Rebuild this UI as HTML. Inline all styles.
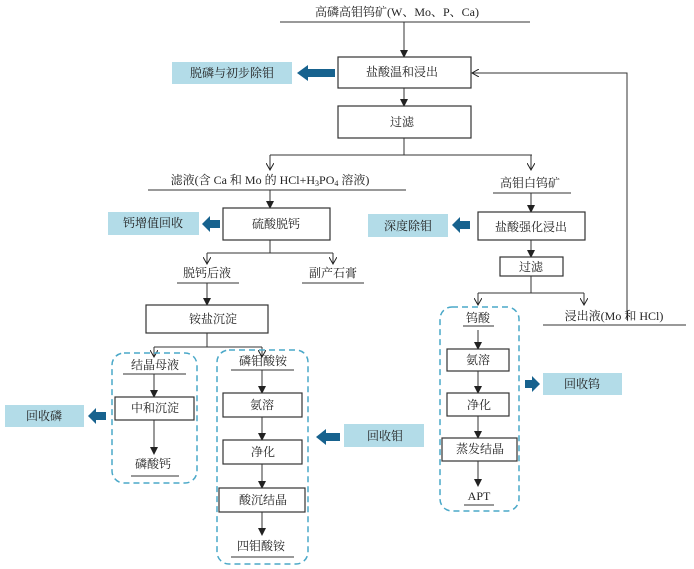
<!DOCTYPE html>
<html><head><meta charset="utf-8"><style>
body{margin:0;background:#fff}
svg{display:block}
text{font-family:"Liberation Serif","Noto Serif CJK SC",serif;font-size:12px;fill:#222;text-anchor:middle;dominant-baseline:central}
.b{fill:#fff;stroke:#333;stroke-width:1.2}
.l{stroke:#333;stroke-width:1;fill:none}
.c{fill:#b3dce8}
.d{fill:none;stroke:#4aa8c8;stroke-width:1.5;stroke-dasharray:6,4}
.a{fill:#17628e}
</style></head><body>
<svg width="694" height="569" viewBox="0 0 694 569">
<defs>
<marker id="m" markerWidth="8" markerHeight="8" refX="7" refY="4" orient="auto" markerUnits="userSpaceOnUse"><path d="M0,0 L8,4 L0,8 z" fill="#222"/></marker>
<marker id="o" markerWidth="8" markerHeight="8" refX="7" refY="4" orient="auto" markerUnits="userSpaceOnUse"><path d="M0,0 L7,4 L0,8" fill="none" stroke="#222"/></marker>
</defs>

<!-- top -->
<text x="397" y="12">高磷高钼钨矿(W、Mo、P、Ca)</text>
<line class="l" x1="280" y1="22" x2="530" y2="22"/>
<line class="l" x1="404" y1="22" x2="404" y2="57" marker-end="url(#m)"/>
<rect class="b" x="338" y="57" width="133" height="31"/>
<text x="402" y="72">盐酸温和浸出</text>
<rect class="c" x="172" y="62" width="120" height="22"/>
<text x="232" y="73">脱磷与初步除钼</text>
<path class="a" d="M335,69 L308,69 L308,65 L297,73 L308,81 L308,77 L335,77 z"/>
<polyline class="l" points="627,320 627,73 472,73" marker-end="url(#o)"/>
<line class="l" x1="404" y1="88" x2="404" y2="106" marker-end="url(#m)"/>
<rect class="b" x="338" y="106" width="133" height="32"/>
<text x="402" y="122">过滤</text>
<polyline class="l" points="404,138 404,155"/>
<line class="l" x1="270" y1="155" x2="532" y2="155"/>
<line class="l" x1="270" y1="155" x2="270" y2="170" marker-end="url(#o)"/>
<line class="l" x1="531" y1="155" x2="531" y2="170" marker-end="url(#o)"/>

<text x="270" y="180">滤液(含 Ca 和 Mo 的 HCl+H<tspan font-size="8" dy="3">3</tspan><tspan dy="-3">PO</tspan><tspan font-size="8" dy="3">4</tspan><tspan dy="-3"> 溶液)</tspan></text>
<line class="l" x1="148" y1="190" x2="406" y2="190"/>
<text x="530" y="183">高钼白钨矿</text>
<line class="l" x1="493" y1="193" x2="571" y2="193"/>

<line class="l" x1="270" y1="190" x2="270" y2="208" marker-end="url(#m)"/>
<rect class="b" x="223" y="208" width="107" height="32"/>
<text x="276" y="224">硫酸脱钙</text>
<rect class="c" x="108" y="212" width="91" height="23"/>
<text x="153" y="223">钙增值回收</text>
<path class="a" d="M220,220 L210,220 L210,216 L202,224 L210,232 L210,228 L220,228 z"/>

<line class="l" x1="531" y1="193" x2="531" y2="212" marker-end="url(#m)"/>
<rect class="b" x="478" y="212" width="107" height="28"/>
<text x="531" y="227">盐酸强化浸出</text>
<rect class="c" x="368" y="214" width="80" height="23"/>
<text x="408" y="226">深度除钼</text>
<path class="a" d="M470,221 L460,221 L460,217 L452,225 L460,233 L460,229 L470,229 z"/>
<line class="l" x1="531" y1="240" x2="531" y2="257" marker-end="url(#m)"/>
<rect class="b" x="500" y="257" width="63" height="19"/>
<text x="531" y="267">过滤</text>
<line class="l" x1="531" y1="276" x2="531" y2="293"/>
<line class="l" x1="478" y1="293" x2="584" y2="293"/>
<line class="l" x1="478" y1="293" x2="478" y2="305" marker-end="url(#o)"/>
<line class="l" x1="584" y1="293" x2="584" y2="305" marker-end="url(#o)"/>
<text x="614" y="316">浸出液(Mo 和 HCl)</text>
<line class="l" x1="543" y1="325" x2="686" y2="325"/>

<line class="l" x1="270" y1="240" x2="270" y2="253"/>
<line class="l" x1="207" y1="253" x2="333" y2="253"/>
<line class="l" x1="207" y1="253" x2="207" y2="264" marker-end="url(#o)"/>
<line class="l" x1="333" y1="253" x2="333" y2="264" marker-end="url(#o)"/>
<text x="207" y="273">脱钙后液</text>
<line class="l" x1="177" y1="283" x2="239" y2="283"/>
<text x="333" y="273">副产石膏</text>
<line class="l" x1="302" y1="283" x2="364" y2="283"/>

<line class="l" x1="207" y1="283" x2="207" y2="305" marker-end="url(#m)"/>
<rect class="b" x="146" y="305" width="122" height="28"/>
<text x="213" y="319">铵盐沉淀</text>
<line class="l" x1="207" y1="333" x2="207" y2="347"/>
<line class="l" x1="154" y1="347" x2="262" y2="347"/>
<line class="l" x1="154" y1="347" x2="154" y2="357" marker-end="url(#o)"/>
<line class="l" x1="262" y1="347" x2="262" y2="357" marker-end="url(#o)"/>

<!-- group 1 -->
<rect class="d" x="112" y="353" width="85" height="130" rx="12"/>
<text x="155" y="365">结晶母液</text>
<line class="l" x1="123" y1="374" x2="186" y2="374"/>
<line class="l" x1="154" y1="374" x2="154" y2="397" marker-end="url(#m)"/>
<rect class="b" x="115" y="397" width="79" height="23"/>
<text x="155" y="408">中和沉淀</text>
<line class="l" x1="154" y1="420" x2="154" y2="454" marker-end="url(#m)"/>
<text x="153" y="464">磷酸钙</text>
<line class="l" x1="131" y1="476" x2="179" y2="476"/>
<rect class="c" x="5" y="405" width="79" height="22"/>
<text x="44" y="416">回收磷</text>
<path class="a" d="M106,412 L96,412 L96,408 L88,416 L96,424 L96,420 L106,420 z"/>

<!-- group 2 -->
<rect class="d" x="217" y="350" width="91" height="214" rx="12"/>
<text x="263" y="361">磷钼酸铵</text>
<line class="l" x1="231" y1="370" x2="294" y2="370"/>
<line class="l" x1="262" y1="370" x2="262" y2="393" marker-end="url(#m)"/>
<rect class="b" x="223" y="393" width="79" height="24"/>
<text x="262" y="405">氨溶</text>
<line class="l" x1="262" y1="417" x2="262" y2="440" marker-end="url(#m)"/>
<rect class="b" x="223" y="440" width="79" height="24"/>
<text x="263" y="452">净化</text>
<line class="l" x1="262" y1="464" x2="262" y2="488" marker-end="url(#m)"/>
<rect class="b" x="219" y="488" width="86" height="24"/>
<text x="263" y="500">酸沉结晶</text>
<line class="l" x1="262" y1="512" x2="262" y2="535" marker-end="url(#m)"/>
<text x="261" y="546">四钼酸铵</text>
<line class="l" x1="231" y1="557" x2="294" y2="557"/>
<rect class="c" x="344" y="424" width="80" height="23"/>
<text x="385" y="436">回收钼</text>
<path class="a" d="M340,433 L326,433 L326,429 L316,437 L326,445 L326,441 L340,441 z"/>

<!-- group 3 -->
<rect class="d" x="440" y="307" width="79" height="204" rx="12"/>
<text x="478" y="318">钨酸</text>
<line class="l" x1="463" y1="326" x2="494" y2="326"/>
<line class="l" x1="478" y1="330" x2="478" y2="349" marker-end="url(#m)"/>
<rect class="b" x="447" y="349" width="62" height="22"/>
<text x="478" y="360">氨溶</text>
<line class="l" x1="478" y1="371" x2="478" y2="393" marker-end="url(#m)"/>
<rect class="b" x="447" y="393" width="62" height="23"/>
<text x="479" y="405">净化</text>
<line class="l" x1="478" y1="416" x2="478" y2="438" marker-end="url(#m)"/>
<rect class="b" x="442" y="438" width="75" height="23"/>
<text x="480" y="449">蒸发结晶</text>
<line class="l" x1="478" y1="461" x2="478" y2="486" marker-end="url(#m)"/>
<text x="479" y="496">APT</text>
<line class="l" x1="464" y1="505" x2="494" y2="505"/>
<rect class="c" x="543" y="373" width="79" height="22"/>
<text x="582" y="384">回收钨</text>
<path class="a" d="M525,380 L532,380 L532,376 L540,384 L532,392 L532,388 L525,388 z"/>
</svg>
</body></html>
